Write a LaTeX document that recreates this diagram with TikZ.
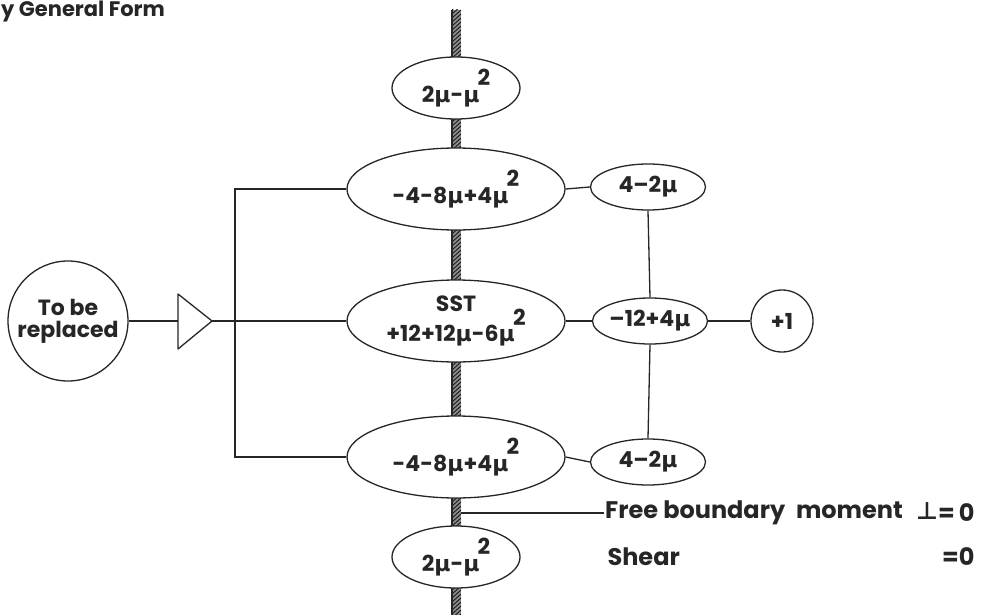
\documentclass[tikz,border=0pt]{standalone}
\usepackage{fontspec}
\setmainfont{Poppins}
\newfontfamily\gkfont{DejaVu Sans}
\usetikzlibrary{shapes.geometric}
\newcommand\mmu{{\gkfont\bfseries μ}}
\newcommand\sqtwo{\kern-0.08em\raisebox{0.75em}{2}}
\begin{document}
\begin{tikzpicture}[x=1pt,y=-1pt,
  ink/.style={draw=black!85, line width=1.3pt},
  lbl/.style={font=\fontsize{22}{25}\selectfont\bfseries, text=black!85},
  bigell/.style={ellipse, ink, lbl, fill=white, minimum width=218pt, minimum height=82pt, inner sep=0pt},
  endell/.style={ellipse, ink, lbl, fill=white, minimum width=128pt, minimum height=62pt, inner sep=0pt},
  smell/.style={ellipse, ink, lbl, fill=white, minimum width=115pt, minimum height=46pt, inner sep=0pt},
  note/.style={font=\fontsize{24}{28}\selectfont\bfseries, text=black!85},
  wire/.style={draw=black!85, line width=1.3pt}]
\useasboundingbox (0,0) rectangle (982,615);
\fill[white] (0,0) rectangle (982,615);

% caption
\node[anchor=base west, inner sep=0pt, font=\fontsize{21}{24}\selectfont\bfseries, text=black!85] (cap) at (1,17) {y General Form};

% hatched plate edge
\fill[black!45] (452,10) rectangle (461,615);
\begin{scope}
  \clip (452,10) rectangle (461,615);
  \foreach \y in {10,14,...,622} \draw[black!90, line width=0.9pt] (452,\y) -- (461,\y-8);
\end{scope}
\draw[black!85, line width=1.2pt] (452,10) -- (452,615);

% operator nodes
\node[endell] (t) at (456,88) {2\mmu-\mmu\sqtwo};
\node[bigell] (a) at (456,189) {-4-8\mmu+4\mmu\sqtwo};
\node[bigell, align=center] (s) at (456,321) {SST\\[-4pt]+12+12\mmu-6\mmu\sqtwo};
\node[bigell] (b) at (456,457) {-4-8\mmu+4\mmu\sqtwo};
\node[endell] (u) at (456,557) {2\mmu-\mmu\sqtwo};

\node[smell] (a2) at (648,187) {4–2\mmu};
\node[smell] (s2) at (650,321) {–12+4\mmu};
\node[smell] (b2) at (648,462) {4–2\mmu};
\node[circle, ink, lbl, minimum size=62pt, inner sep=0pt] (one) at (782,321) {+1};

\node[circle, ink, lbl, minimum size=120pt, inner sep=0pt, align=center,
      font=\fontsize{22}{22}\selectfont\bfseries] (rep) at (68,321) {To be\\replaced};

% amplifier triangle
\coordinate (tb) at (178,321);
\coordinate (ta) at (212,321);
\draw[ink, line join=round] (178,294) -- (ta) -- (178,349) -- cycle;
\coordinate (j) at (235,321);

% connectors
\draw[wire] (rep.east) -- (tb);
\draw[wire] (ta) -- (s.west);
\draw[wire] (j) |- (a.west);
\draw[wire] (j) |- (b.west);
\draw[wire] (a.east) -- (a2.west);
\draw[wire] (s.east) -- (s2.west);
\draw[wire] (b.east) -- (b2.west);
\draw[wire] (a2.south) -- (s2.north);
\draw[wire] (s2.south) -- (b2.north);
\draw[wire] (s2.east) -- (one.west);

% boundary conditions
\coordinate (fb) at (461,513);
\node[note, anchor=west, inner sep=1pt] (fbt) at (604,513) {Free boundary\hspace{0.45em}moment};
\node[note, anchor=center] (perp) at (927,511) {{\gkfont ⊥}};
\node[note, anchor=east] (fz) at (978,513) {=\,0};
\draw[wire] (fb) -- (fbt.west);
\node[note, anchor=west] (sh) at (604,557) {Shear};
\node[note, anchor=east] (sz) at (978,557) {=0};
\end{tikzpicture}
\end{document}
